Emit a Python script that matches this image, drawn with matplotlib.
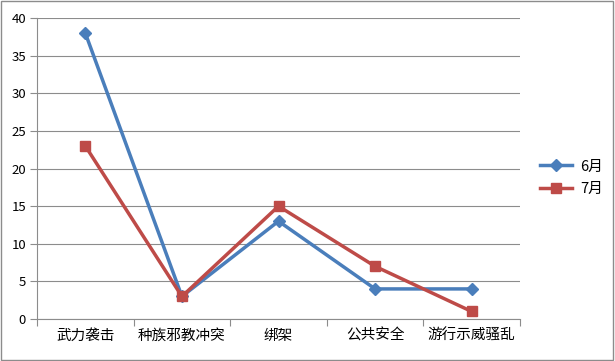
import matplotlib.pyplot as plt
import numpy as np
from matplotlib.patches import Rectangle

plt.rcParams['font.family'] = ['Noto Sans CJK SC', 'DejaVu Sans']

categories = ['武力袭击', '种族邪教冲突', '绑架', '公共安全', '游行示威骚乱']
june = [38, 3, 13, 4, 4]
july = [23, 3, 15, 7, 1]
yticks = [0, 5, 10, 15, 20, 25, 30, 35, 40]

fig = plt.figure(figsize=(6.15, 3.61), dpi=100)
fig.patches.append(Rectangle((0.002, 0.003), 0.995, 0.994, transform=fig.transFigure,
                             fill=False, edgecolor='#8c8c8c', linewidth=1.0))
ax = fig.add_axes([0.0602, 0.1163, 0.7853, 0.8337])

x = np.arange(len(categories))
ax.plot(x, june, color='#4a7ebb', linewidth=2.5, marker='D', markersize=6.5, label='6月')
ax.plot(x, july, color='#be4b48', linewidth=2.5, marker='s', markersize=7.5, label='7月')

ax.set_xlim(-0.5, len(categories) - 0.5)
ax.set_ylim(0, 40)
ax.set_yticks(yticks)
ax.yaxis.grid(True, color='#8c8c8c', linewidth=0.8)
ax.set_axisbelow(True)
ax.set_xticks(np.arange(-0.5, len(categories), 1.0))
ax.set_xticklabels([])
ax.set_xticks(x, minor=True)
ax.set_xticklabels(categories, minor=True, fontsize=10.5)
ax.tick_params(axis='x', which='minor', length=0, pad=7)
ax.tick_params(axis='x', which='major', length=5, color='#8c8c8c', direction='out')
ax.tick_params(axis='y', length=5, color='#8c8c8c', labelsize=9.5, pad=3)

for s in ['top', 'right']:
    ax.spines[s].set_visible(False)
for s in ['left', 'bottom']:
    ax.spines[s].set_color('#8c8c8c')

ax.legend(loc='center left', bbox_to_anchor=(1.0, 0.469), frameon=False, fontsize=10.5,
          handlelength=2.2, handletextpad=0.5, labelspacing=0.6, borderaxespad=1.0)

fig.savefig('out.png', dpi=100)
